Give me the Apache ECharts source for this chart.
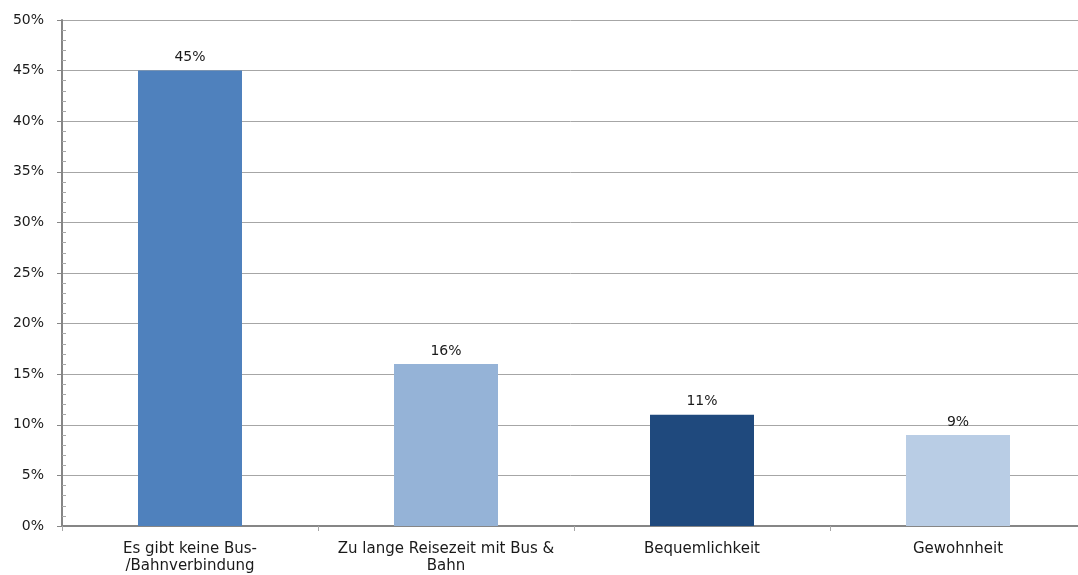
<!DOCTYPE html>
<html><head><meta charset="utf-8">
<script src="https://cdn.jsdelivr.net/npm/echarts@6/dist/echarts.min.js"></script>
<style>html,body{margin:0;padding:0;background:#fff}#c{width:1078px;height:575px}</style>
</head><body><div id="c"></div>
<script>
const categories = ['Es gibt keine Bus-\n/Bahnverbindung', 'Zu lange Reisezeit mit Bus &\nBahn', 'Bequemlichkeit', 'Gewohnheit'];
const values = [45, 16, 11, 9];
const barColors = ['#4f81bd', '#95b3d7', '#1f497d', '#b9cde5'];
const yTickLabels = { min: 0, max: 50, interval: 5 };

const chart = echarts.init(document.getElementById('c'));
const font = 'DejaVu Sans';
chart.setOption({
  animation: false,
  backgroundColor: '#fff',
  grid: { left: 62, width: 1024, top: 20, bottom: 49, containLabel: false, outerBoundsMode: 'none' },
  xAxis: {
    type: 'category',
    data: categories,
    axisLine: { lineStyle: { color: '#868686', width: 2 } },
    axisTick: { show: true, length: 5, lineStyle: { color: '#a6a6a6' } },
    axisLabel: { color: '#1a1a1a', fontSize: 15, fontFamily: font, lineHeight: 17, margin: 15, interval: 0 }
  },
  yAxis: {
    type: 'value',
    min: yTickLabels.min, max: yTickLabels.max, interval: yTickLabels.interval,
    axisLine: { show: true, lineStyle: { color: '#868686', width: 2 } },
    axisTick: { show: true, length: 5, lineStyle: { color: '#868686' } },
    minorTick: { show: true, splitNumber: 5, length: -4, lineStyle: { color: '#a6a6a6' } },
    splitLine: { lineStyle: { color: '#a6a6a6', width: 1 } },
    axisLabel: { formatter: '{value}%', color: '#1a1a1a', fontSize: 14, fontFamily: font, margin: 18 }
  },
  series: [{
    type: 'bar',
    data: values.map((v, i) => ({ value: v, itemStyle: { color: barColors[i] } })),
    barWidth: 104,
    label: { show: true, position: 'top', formatter: '{c}%', color: '#1a1a1a', fontSize: 14, fontFamily: font, distance: 6 }
  }]
});
</script></body></html>
